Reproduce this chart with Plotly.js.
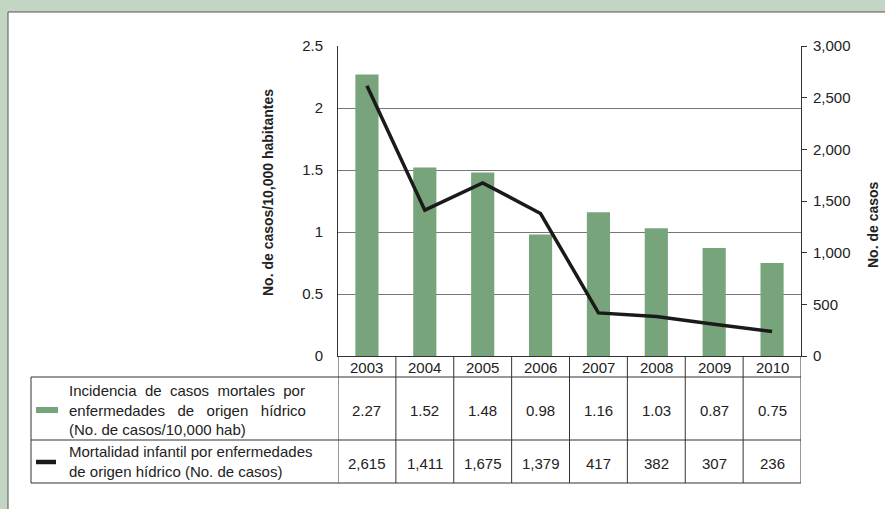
<!DOCTYPE html>
<html><head><meta charset="utf-8">
<script src="https://cdn.plot.ly/plotly-3.0.1.min.js"></script>
<style>html,body{margin:0;padding:0;background:#fff}#chart{width:885px;height:509px}</style>
</head><body><div id="chart"></div>
<script>
// ---- data ----
const years = ['2003','2004','2005','2006','2007','2008','2009','2010'];
const incidencia = [2.27, 1.52, 1.48, 0.98, 1.16, 1.03, 0.87, 0.75];
const mortalidad = [2615, 1411, 1675, 1379, 417, 382, 307, 236];
const incidenciaLabels = ['2.27','1.52','1.48','0.98','1.16','1.03','0.87','0.75'];
const mortalidadLabels = ['2,615','1,411','1,675','1,379','417','382','307','236'];
const seriesNames = [
  'Incidencia&nbsp; de&nbsp; casos&nbsp; mortales&nbsp; por<br>enfermedades&nbsp;&nbsp; de&nbsp;&nbsp; origen&nbsp;&nbsp; hídrico<br>(No. de casos/10,000 hab)',
  'Mortalidad infantil por enfermedades<br>de origen hídrico (No. de casos)'
];
const yTitleLeft = 'No. de casos/10,000 habitantes';
const yTitleRight = 'No. de casos';

// ---- layout helpers ----
const W = 885, H = 509, L = 338, R = 801, T = 46, B = 356;
const py = p => (B - p) / (B - T);
const pxp = p => (p - L) / (R - L);
const FONT = 'Liberation Sans, Arial, sans-serif';
const GREEN = '#78a47b';
const LINEC = '#333';
const TXT = '#222';

const shapes = [];
// frame
shapes.push({type:'rect', xref:'paper', yref:'paper', x0:pxp(8), x1:pxp(900), y0:py(12), y1:py(530),
  fillcolor:'#ffffff', line:{color:'#555', width:1}, layer:'below'});
// table rows
const tblLeft = 31, hdrBottom = 377, row1Bottom = 440, row2Bottom = 483;
[hdrBottom, row1Bottom, row2Bottom].forEach(yy => {
  shapes.push({type:'line', xref:'paper', yref:'paper', x0:pxp(tblLeft), x1:1, y0:py(yy), y1:py(yy), line:{color:LINEC, width:1}});
});
shapes.push({type:'line', xref:'paper', yref:'paper', x0:pxp(tblLeft), x1:pxp(tblLeft), y0:py(hdrBottom), y1:py(row2Bottom), line:{color:LINEC, width:1}});
for (let i = 0; i <= years.length; i++) {
  shapes.push({type:'line', xref:'x', yref:'paper', x0:i-0.5, x1:i-0.5, y0:0, y1:py(row2Bottom), line:{color:LINEC, width:1}});
}
// legend keys
shapes.push({type:'rect', xref:'paper', yref:'paper', x0:pxp(36), x1:pxp(58), y0:py(407), y1:py(413), fillcolor:GREEN, line:{width:0}});
shapes.push({type:'line', xref:'paper', yref:'paper', x0:pxp(36), x1:pxp(56), y0:py(462), y1:py(462), line:{color:'#1a1a1a', width:4.5}});

const annotations = [];
const cellFont = {family:FONT, size:15, color:TXT};
years.forEach((y, i) => {
  annotations.push({xref:'x', yref:'paper', x:i, y:py(367), xanchor:'center', yanchor:'middle', text:y, showarrow:false, font:cellFont});
  annotations.push({xref:'x', yref:'paper', x:i, y:py(410), xanchor:'center', yanchor:'middle', text:incidenciaLabels[i], showarrow:false, font:cellFont});
  annotations.push({xref:'x', yref:'paper', x:i, y:py(463), xanchor:'center', yanchor:'middle', text:mortalidadLabels[i], showarrow:false, font:cellFont});
});
annotations.push({xref:'paper', yref:'paper', x:pxp(67), y:py(410), xanchor:'left', yanchor:'middle', align:'left', text:seriesNames[0], showarrow:false, font:cellFont});
annotations.push({xref:'paper', yref:'paper', x:pxp(67), y:py(462), xanchor:'left', yanchor:'middle', align:'left', text:seriesNames[1], showarrow:false, font:cellFont});
annotations.push({xref:'paper', yref:'paper', x:pxp(268), y:py(193), xanchor:'center', yanchor:'middle', textangle:-90, text:'<b>'+yTitleLeft+'</b>', showarrow:false, font:{family:FONT, size:14, color:TXT}});
annotations.push({xref:'paper', yref:'paper', x:pxp(873), y:py(225), xanchor:'center', yanchor:'middle', textangle:-90, text:'<b>'+yTitleRight+'</b>', showarrow:false, font:{family:FONT, size:14, color:TXT}});

const data = [
  {type:'bar', x:years, y:incidencia, marker:{color:GREEN}, width:0.4, yaxis:'y', hoverinfo:'skip'},
  {type:'scatter', mode:'lines', x:years, y:mortalidad, yaxis:'y2', line:{color:'#1a1a1a', width:3.5}, hoverinfo:'skip'}
];

const layout = {
  width:W, height:H, showlegend:false,
  paper_bgcolor:'#c3d6c3', plot_bgcolor:'rgba(0,0,0,0)',
  margin:{l:L, r:W-R, t:T, b:H-B, pad:0},
  font:{family:FONT, size:15, color:TXT},
  xaxis:{type:'category', range:[-0.5, 7.5], showticklabels:false, ticks:'', showgrid:false, showline:true, linecolor:LINEC, linewidth:1, zeroline:false, fixedrange:true},
  yaxis:{range:[0,2.5], dtick:0.5, showgrid:true, gridcolor:'#777', gridwidth:1, showline:true, linecolor:LINEC, linewidth:1, ticks:'', zeroline:false, ticklabelstandoff:11, tickfont:{family:FONT, size:15, color:TXT}},
  yaxis2:{overlaying:'y', side:'right', range:[0,3000], dtick:500, tickformat:',d', showgrid:false, showline:true, linecolor:LINEC, linewidth:1, ticks:'outside', ticklen:5, tickcolor:LINEC, zeroline:false, ticklabelstandoff:3, tickfont:{family:FONT, size:15, color:TXT}},
  shapes:shapes, annotations:annotations
};
Plotly.newPlot('chart', data, layout, {staticPlot:true, displayModeBar:false});
</script></body></html>
